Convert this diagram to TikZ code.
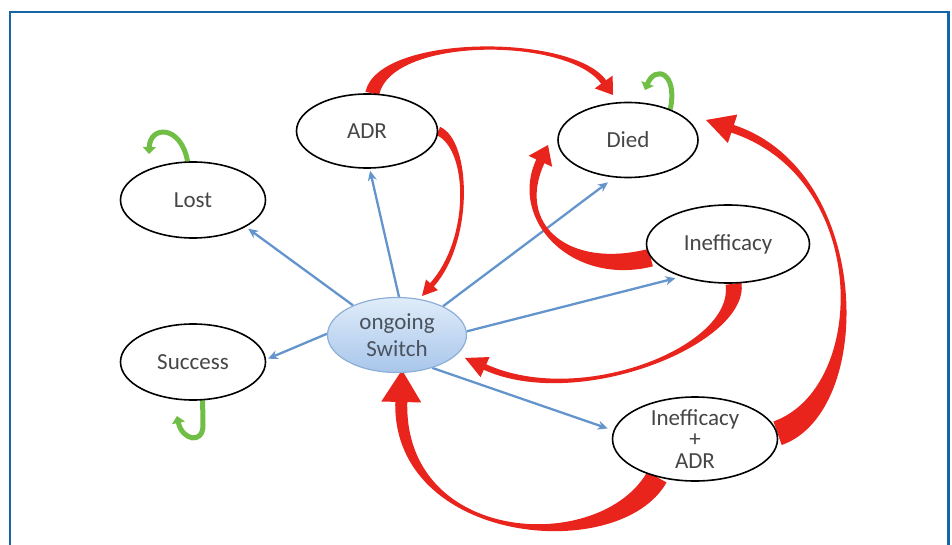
\documentclass[tikz,border=0pt]{standalone}
\usepackage{fontspec}
\setmainfont{Carlito}
\usetikzlibrary{shapes.geometric,arrows.meta,calc,backgrounds}
\definecolor{frameblue}{RGB}{21,101,168}
\definecolor{linkblue}{RGB}{100,148,204}
\definecolor{arrred}{RGB}{232,36,28}
\definecolor{loopgreen}{RGB}{112,190,70}
\definecolor{txtgray}{RGB}{70,70,70}
\definecolor{swtop}{RGB}{224,236,250}
\definecolor{swbot}{RGB}{168,198,234}
\definecolor{swborder}{RGB}{140,175,215}
\definecolor{swtext}{RGB}{75,82,95}

% tapered filled arrow: #1 start, #2 ctrl1, #3 ctrl2, #4 tip, #5 start width, #6 end width, #7 head width, #8 head length
\newcommand{\redarrow}[8]{%
  \path (#1) coordinate (ra0) (#2) coordinate (ra1) (#3) coordinate (ra2) (#4) coordinate (rtip);
  \path ($(rtip)!#8pt!(ra2)$) coordinate (ra3);
  \path ($(ra0)!#5pt/2!90:(ra1)$) coordinate (la0)
        ($(ra0)!#5pt/2!-90:(ra1)$) coordinate (lb0)
        ($(ra3)!#6pt/2!-90:(ra2)$) coordinate (la3)
        ($(ra3)!#6pt/2!90:(ra2)$) coordinate (lb3)
        ($(ra3)!#7pt/2!-90:(ra2)$) coordinate (ha)
        ($(ra3)!#7pt/2!90:(ra2)$) coordinate (hb);
  \path ($(ra1)+(la0)-(ra0)$) coordinate (la1)
        ($(ra1)+(lb0)-(ra0)$) coordinate (lb1)
        ($(ra2)+(la3)-(ra3)$) coordinate (la2)
        ($(ra2)+(lb3)-(ra3)$) coordinate (lb2);
  \fill[arrred] (la0) .. controls (la1) and (la2) .. (la3) -- (ha) -- (rtip) -- (hb)
     -- (lb3) .. controls (lb2) and (lb1) .. (lb0) -- cycle;
}

\begin{document}
\begin{tikzpicture}[x=1pt,y=-1pt,
  state/.style={ellipse, draw=black, line width=1.6pt, fill=white, inner sep=0pt,
    text=txtgray, font=\fontsize{23}{21.5}\selectfont, align=center},
  switchnode/.style={ellipse, draw=swborder, line width=1.2pt, top color=swtop, bottom color=swbot,
    inner sep=0pt, text=swtext, font=\fontsize{23}{27}\selectfont, align=center},
  link/.style={draw=linkblue, line width=2.3pt, -{Stealth[length=10pt,width=9pt]}},
  loop/.style={draw=loopgreen, line width=5pt, -{Triangle[length=7pt,width=13pt]}}
]
\useasboundingbox (0,0) rectangle (952,545);
\draw[frameblue, line width=2.5pt] (10,545) -- (10,12) -- (948.5,12) -- (948.5,545);

\node[state, minimum width=145pt, minimum height=76pt] (lost) at (193,200) {Lost};
\node[state, minimum width=141pt, minimum height=74pt] (adr) at (367,131) {ADR};
\node[state, minimum width=140pt, minimum height=75pt] (died) at (628,140) {Died};
\node[state, minimum width=163pt, minimum height=78pt] (ineff) at (728,244) {Inefficacy};
\node[state, minimum width=165pt, minimum height=84pt] (ia) at (695,439) {Inefficacy\\+\\ADR};
\node[state, minimum width=145pt, minimum height=76pt] (success) at (193,362) {Success};
\node[switchnode, minimum width=139pt, minimum height=75pt] (sw) at (397,335) {ongoing\\Switch};

\begin{pgfonlayer}{background}
  % blue transitions
  \draw[link, shorten >=3pt] (sw.146) -- (lost.333);
  \draw[link, shorten >=2pt] (sw.87) -- (adr.274);
  \draw[link, shorten >=8pt] (sw.32) -- (died.250);
  \draw[link, shorten >=6pt] (sw.3) -- (ineff.215);
  \draw[link, shorten >=6pt] (sw.317) -- (ia.174);
  \draw[link, shorten >=2pt] (sw.179) -- (success.2);

  % red transitions
  \coordinate (tipA) at (613,95);
  \coordinate (tipB) at (422,296);
  \coordinate (tipC) at (548,145);
  \coordinate (tipD) at (465,358);
  \coordinate (tipE) at (706,120);
  \coordinate (tipF) at (402,370);
  \redarrow{adr.82}{385,35}{570,35}{tipA}{14}{6}{22}{16}
  \redarrow{adr.0}{470,145}{472,240}{tipB}{9}{5}{16}{15}
  \redarrow{ineff.190}{570,278}{512,222}{tipC}{18}{9}{26}{18}
  \redarrow{ineff.278}{742,345}{580,410}{tipD}{16}{6}{22}{22}
  \redarrow{ia.4}{872,400}{872,175}{tipE}{25}{8}{30}{28}
  \redarrow{ia.225}{610,560}{398,545}{tipF}{22}{12}{40}{32}

  % green self loops
  \draw[loop] (lost.98) .. controls (181,125) and (150,125) .. (149,154);
  \draw[loop] (died.36) .. controls (678,72) and (655,65) .. (645,90);
  \draw[loop] (success.284) -- (203,425) .. controls (203,445) and (182,440) .. (177,416);
\end{pgfonlayer}
\end{tikzpicture}
\end{document}
